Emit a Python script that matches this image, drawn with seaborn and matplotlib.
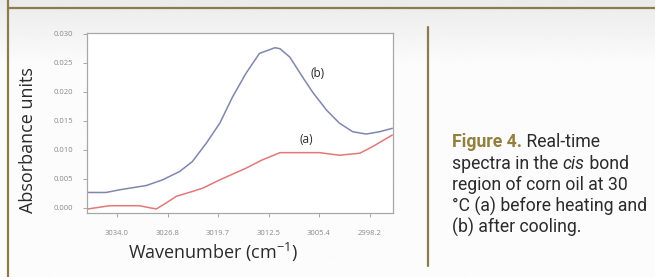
import numpy as np
import pandas as pd
import matplotlib
matplotlib.use("Agg")
import matplotlib.pyplot as plt
import seaborn as sns

#spectra (wavenumber in cm-1, absorbance units)
wn_b = [3038.2, 3035.5, 3033.6, 3029.8, 3027.5, 3025.1, 3023.3, 3021.3, 3019.4, 3017.6,
        3015.7, 3013.8, 3011.6, 3010.9, 3009.5, 3007.7, 3006.3, 3004.3, 3002.5, 3000.6,
        2998.7, 2996.8, 2995.0]
abs_b = [0.00267, 0.00267, 0.00313, 0.00387, 0.00485, 0.00627, 0.00798, 0.01118, 0.01461, 0.01911,
         0.02317, 0.02659, 0.02757, 0.02740, 0.02596, 0.02253, 0.01997, 0.01683, 0.01461, 0.01312,
         0.01272, 0.01312, 0.01370]
wn_a = [3038.1, 3035.0, 3030.8, 3028.4, 3027.0, 3025.6, 3023.3, 3021.8, 3019.4, 3015.7,
        3013.4, 3010.9, 3008.6, 3005.3, 3002.5, 2999.6, 2997.8, 2995.0]
abs_a = [-0.00017, 0.00039, 0.00039, -0.00017, 0.00086, 0.00199, 0.00284, 0.00342, 0.00485, 0.00685,
         0.00827, 0.00952, 0.00952, 0.00952, 0.00908, 0.00942, 0.01055, 0.01255]

x_ticks = [3034.0, 3026.8, 3019.7, 3012.5, 3005.4, 2998.2]
x_ticklabels = ["3034.0", "3026.8", "3019.7", "3012.5", "3005.4", "2998.2"]
y_ticks = [0.000, 0.005, 0.010, 0.015, 0.020, 0.025, 0.030]
y_ticklabels = ["0.000", "0.005", "0.010", "0.015", "0.020", "0.025", "0.030"]

caption = [
    [("Figure 4.", "bold", "normal", "#93803f"), (" Real-time", "normal", "normal", "#2b2b2b")],
    [("spectra in the ", "normal", "normal", "#2b2b2b"), ("cis", "normal", "italic", "#2b2b2b"),
     (" bond", "normal", "normal", "#2b2b2b")],
    [("region of corn oil at 30", "normal", "normal", "#2b2b2b")],
    [("°C (a) before heating and", "normal", "normal", "#2b2b2b")],
    [("(b) after cooling.", "normal", "normal", "#2b2b2b")],
]

df = pd.concat([
    pd.DataFrame({"wn": wn_a, "abs": abs_a, "run": "(a)"}),
    pd.DataFrame({"wn": wn_b, "abs": abs_b, "run": "(b)"}),
])

sns.set_style("white")
plt.rcParams['font.family'] = ['Open Sans', 'DejaVu Sans']
cap_font = ['Roboto', 'DejaVu Sans']

W, H = 655, 277
fig = plt.figure(figsize=(W / 100, H / 100), dpi=100)
fig.patch.set_facecolor("#fbfbfa")

#soft grey band at the top of the page
bg = fig.add_axes([0, 0, 1, 1], zorder=-10)
grad = np.linspace(0.92, 0.985, 60)
grad = np.concatenate([grad, np.full(200, 0.985)])[:, None]
bg.imshow(np.repeat(grad, 2, axis=1), cmap="gray", vmin=0, vmax=1, aspect="auto",
          extent=[0, 1, 0, 1])
bg.axis("off")

#frame lines
frame_c = "#8c7b4b"
fig.add_artist(plt.Line2D([8 / W, 1], [1 - 8 / H] * 2, color=frame_c, lw=1.6))
fig.add_artist(plt.Line2D([7.5 / W] * 2, [0, 1], color=frame_c, lw=1.6))
fig.add_artist(plt.Line2D([428 / W] * 2, [1 - 27 / H, 1 - 266 / H], color=frame_c, lw=1.6))

ax = fig.add_axes([87 / W, 1 - 213 / H, (393 - 87) / W, (213 - 33) / H])
ax.set_facecolor("white")
sns.lineplot(data=df, x="wn", y="abs", hue="run", palette={"(a)": "#e27878", "(b)": "#7f87ae"},
             estimator=None, sort=False, lw=1.1, legend=False, ax=ax)

ax.set_xlim(3038.2, 2994.9)
ax.set_ylim(-0.00086, 0.0301)
ax.set_xticks(x_ticks)
ax.set_xticklabels(x_ticklabels)
ax.set_yticks(y_ticks)
ax.set_yticklabels(y_ticklabels)
ax.tick_params(axis="both", which="both", direction="out", length=3, width=0.6, color="#999999",
               labelsize=5.5, labelcolor="#8a8a8a", left=True, bottom=True)
ax.tick_params(axis="y", pad=7)
ax.tick_params(axis="x", pad=9)
for s in ax.spines.values():
    s.set_color("#a8a8a8")
    s.set_linewidth(0.9)

ax.set_xlabel("")
ax.set_ylabel("")
fig.text(213 / W, 1 - 252 / H, "Wavenumber (cm$^{\\mathregular{-1}}$)", ha="center", va="center",
         fontsize=13, color="#2b2b2b")
fig.text(28.5 / W, 1 - 140 / H, "Absorbance units", rotation=90, ha="center", va="center",
         fontsize=13, color="#2b2b2b")

ax.text(3005.6, 0.0232, "(b)", ha="center", va="center", fontsize=8.5, color="#2b2b2b")
ax.text(3007.1, 0.0117, "(a)", ha="center", va="center", fontsize=8.5, color="#2b2b2b")

#caption, drawn run by run so bold / italic parts line up
renderer = fig.canvas.get_renderer()
line_y = [142, 164, 185, 206, 227]
for runs, yy in zip(caption, line_y):
    x0 = 452
    for txt, weight, style, col in runs:
        t = fig.text(x0 / W, 1 - yy / H, txt, ha="left", va="center", fontsize=12.7,
                     fontweight=weight, fontstyle=style, color=col, family=cap_font)
        bb = t.get_window_extent(renderer)
        x0 = bb.x1

fig.savefig("out.png", dpi=100, facecolor=fig.get_facecolor())
